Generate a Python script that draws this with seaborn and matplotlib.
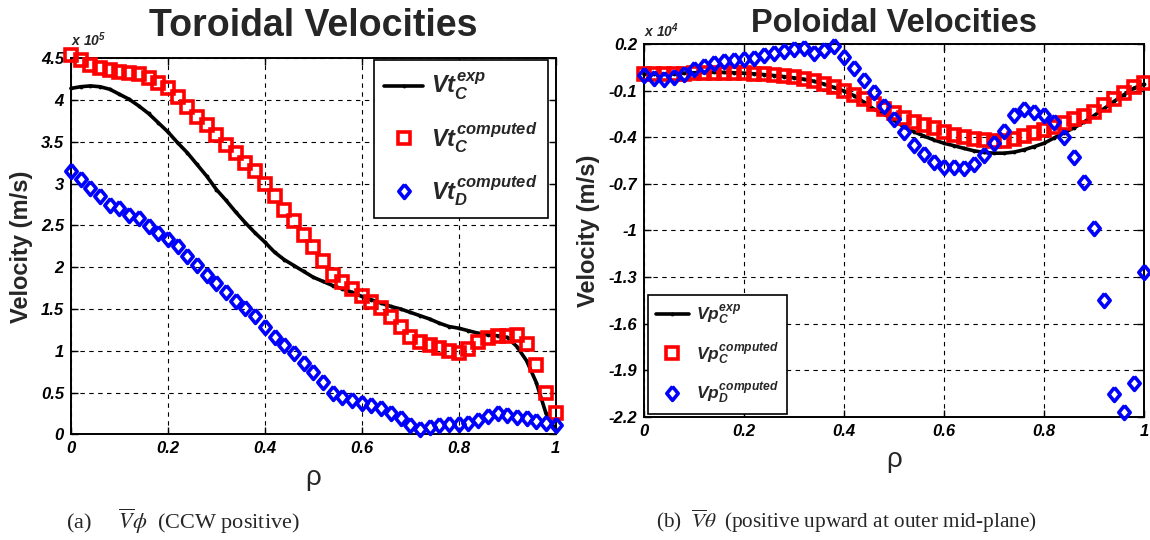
import numpy as np
import pandas as pd
import matplotlib
matplotlib.use("Agg")
import matplotlib.pyplot as plt
import seaborn as sns

# ---------------- data ----------------
rho = np.round(np.arange(51) * 0.02, 2)

# toroidal velocities, units of 1e5 m/s
vt_exp = [4.14, 4.16, 4.17, 4.16, 4.13, 4.07, 4.01, 3.93, 3.84, 3.73,
          3.62, 3.49, 3.37, 3.23, 3.09, 2.93, 2.80, 2.66, 2.53, 2.41,
          2.30, 2.18, 2.09, 2.02, 1.95, 1.88, 1.83, 1.78, 1.74, 1.70,
          1.65, 1.61, 1.57, 1.53, 1.50, 1.46, 1.42, 1.38, 1.33, 1.29,
          1.27, 1.24, 1.21, 1.19, 1.18, 1.16, 1.05, 0.88, 0.62, 0.25,
          0.05]
vt_c = [4.54, 4.48, 4.42, 4.38, 4.36, 4.34, 4.33, 4.31, 4.26, 4.20,
        4.14, 4.04, 3.92, 3.80, 3.70, 3.58, 3.46, 3.37, 3.25, 3.15,
        2.99, 2.85, 2.69, 2.55, 2.38, 2.24, 2.08, 1.91, 1.82, 1.74,
        1.66, 1.58, 1.51, 1.41, 1.29, 1.17, 1.10, 1.07, 1.03, 1.00,
        0.97, 1.02, 1.10, 1.15, 1.18, 1.18, 1.19, 1.08, 0.83, 0.49,
        0.25]
vt_d = [3.15, 3.05, 2.95, 2.85, 2.75, 2.71, 2.63, 2.59, 2.49, 2.41,
        2.34, 2.25, 2.13, 2.03, 1.91, 1.81, 1.70, 1.59, 1.51, 1.42,
        1.29, 1.17, 1.07, 0.97, 0.85, 0.75, 0.63, 0.49, 0.45, 0.41,
        0.37, 0.35, 0.31, 0.26, 0.19, 0.11, 0.06, 0.09, 0.11, 0.12,
        0.12, 0.13, 0.17, 0.22, 0.25, 0.23, 0.21, 0.19, 0.16, 0.13,
        0.11]

# poloidal velocities, units of 1e4 m/s
vp_exp = [0.005, 0.005, 0.006, 0.008, 0.012, 0.015, 0.017, 0.018, 0.017, 0.015,
          0.012, 0.008, 0.003, -0.003, -0.010, -0.018, -0.027, -0.040, -0.058, -0.080,
          -0.103, -0.132, -0.175, -0.220, -0.252, -0.290, -0.335, -0.365, -0.393, -0.418,
          -0.439, -0.455, -0.472, -0.488, -0.498, -0.503, -0.503, -0.496, -0.481, -0.461,
          -0.439, -0.405, -0.372, -0.340, -0.302, -0.261, -0.216, -0.170, -0.126, -0.084,
          -0.058]
vp_c = [0.005, 0.005, 0.005, 0.007, 0.010, 0.011, 0.013, 0.015, 0.015, 0.014,
        0.011, 0.008, 0.004, -0.001, -0.007, -0.014, -0.023, -0.038, -0.059, -0.079,
        -0.102, -0.128, -0.156, -0.188, -0.218, -0.246, -0.274, -0.299, -0.321, -0.342,
        -0.366, -0.385, -0.402, -0.411, -0.415, -0.422, -0.422, -0.410, -0.390, -0.372,
        -0.352, -0.332, -0.308, -0.284, -0.261, -0.235, -0.195, -0.152, -0.117, -0.080,
        -0.053]
vp_d = [0.000, -0.020, -0.025, -0.015, 0.010, 0.040, 0.060, 0.080, 0.090, 0.097,
        0.104, 0.110, 0.130, 0.143, 0.157, 0.166, 0.172, 0.140, 0.160, 0.188,
        0.117, 0.044, -0.030, -0.111, -0.200, -0.283, -0.366, -0.452, -0.507, -0.559,
        -0.591, -0.591, -0.600, -0.575, -0.516, -0.437, -0.357, -0.258, -0.221, -0.237,
        -0.254, -0.301, -0.398, -0.526, -0.687, -0.985, -1.446, -2.052, -2.170, -1.981,
        -1.268]

x_ticks = [0, 0.2, 0.4, 0.6, 0.8, 1]
x_tick_labels = ["0", "0.2", "0.4", "0.6", "0.8", "1"]
left_y_ticks = [0, 0.5, 1, 1.5, 2, 2.5, 3, 3.5, 4, 4.5]
left_y_labels = ["0", "0.5", "1", "1.5", "2", "2.5", "3", "3.5", "4", "4.5"]
right_y_ticks = [0.2, -0.1, -0.4, -0.7, -1, -1.3, -1.6, -1.9, -2.2]
right_y_labels = ["0.2", "-0.1", "-0.4", "-0.7", "-1", "-1.3", "-1.6", "-1.9", "-2.2"]

left_labels = [r"$Vt_C^{exp}$", r"$Vt_C^{computed}$", r"$Vt_D^{computed}$"]
right_labels = [r"$Vp_C^{exp}$", r"$Vp_C^{computed}$", r"$Vp_D^{computed}$"]

# ---------------- style ----------------
sns.set_style("white")
plt.rcParams["font.family"] = ["Liberation Sans", "DejaVu Sans"]
plt.rcParams["axes.unicode_minus"] = False
plt.rcParams["mathtext.fontset"] = "custom"
plt.rcParams["mathtext.it"] = "Liberation Sans:bold:italic"
plt.rcParams["mathtext.rm"] = "Liberation Sans:bold:italic"
plt.rcParams["mathtext.bf"] = "Liberation Sans:bold:italic"

# slightly tall diamond, like MATLAB's
diamond = [(0, 1.0), (0.82, 0), (0, -1.0), (-0.82, 0), (0, 1.0)]

fig = plt.figure(figsize=(11.5, 5.4), dpi=100)
axL = fig.add_axes([0.0617, 0.1957, 0.4215, 0.6963])
axR = fig.add_axes([0.5600, 0.2283, 0.4348, 0.6902])

dfL = pd.DataFrame({"rho": rho, "exp": vt_exp, "c": vt_c, "d": vt_d})
dfR = pd.DataFrame({"rho": rho, "exp": vp_exp, "c": vp_c, "d": vp_d})


def draw(ax, df, labels, leg_fs, leg_bbox, leg_loc, spacing, hlen, tpad):
    sns.lineplot(data=df, x="rho", y="exp", ax=ax, color="black", linewidth=2.6,
                 marker=".", markersize=4, markeredgecolor="black",
                 markerfacecolor="black", label=labels[0], zorder=3, clip_on=False)
    sns.lineplot(data=df, x="rho", y="c", ax=ax, color="red", linestyle="none",
                 marker="s", markersize=8, markerfacecolor="none",
                 markeredgecolor="red", markeredgewidth=2.6, label=labels[1],
                 zorder=4, clip_on=False)
    sns.lineplot(data=df, x="rho", y="d", ax=ax, color="blue", linestyle="none",
                 marker=diamond, markersize=10, markerfacecolor="none",
                 markeredgecolor="blue", markeredgewidth=2.6, label=labels[2],
                 zorder=5, clip_on=False)
    ax.grid(True, color="black", linestyle=(0, (4, 4)), linewidth=0.8)
    for s in ax.spines.values():
        s.set_visible(True)
        s.set_color("black")
        s.set_linewidth(1.4)
    ax.tick_params(direction="in", length=5, width=1, top=True, right=True,
                   bottom=True, left=True, colors="black", pad=5)
    ax.set_xlim(0, 1)
    ax.set_xticks(x_ticks, x_tick_labels)
    ax.set_xlabel("ρ", fontsize=20, labelpad=6)
    ax.set_ylabel("Velocity (m/s)", fontsize=17, fontweight="bold", labelpad=6)
    leg = ax.legend(loc=leg_loc, bbox_to_anchor=leg_bbox, fontsize=leg_fs,
                    frameon=True, fancybox=False, framealpha=1, edgecolor="black",
                    handlelength=hlen, borderpad=0.45, labelspacing=spacing,
                    handletextpad=tpad, borderaxespad=0)
    leg.get_frame().set_linewidth(1.2)
    return leg


axL.set_ylim(0, 4.5)
axL.set_yticks(left_y_ticks, left_y_labels)
draw(axL, dfL, left_labels, 17, (0.985, 0.995), "upper right", 0.75, 1.65, 0.35)
axL.set_title("Toroidal Velocities", fontsize=27, fontweight="bold", pad=16)
axL.text(0.0, 1.025, r"x 10$^{5}$", transform=axL.transAxes, fontsize=10,
         fontweight="bold", fontstyle="italic", ha="left", va="bottom")

axR.set_ylim(-2.2, 0.2)
axR.set_yticks(right_y_ticks, right_y_labels)
draw(axR, dfR, right_labels, 12.5, (0.008, 0.008), "lower left", 0.75, 1.9, 0.4)
axR.set_title("Poloidal Velocities", fontsize=23.5, fontweight="bold", pad=9)
axR.text(0.0, 1.012, r"x 10$^{4}$", transform=axR.transAxes, fontsize=10,
         fontweight="bold", fontstyle="italic", ha="left", va="bottom")

for a in (axL, axR):
    for t in a.get_xticklabels() + a.get_yticklabels():
        t.set_fontweight("bold")
        t.set_fontstyle("italic")
        t.set_fontsize(12)

fig.text(0.057, 0.034, r"(a)     $\overline{V}\phi$  (CCW positive)", fontsize=16,
         family="Liberation Serif", math_fontfamily="stix", ha="left", va="center")
fig.text(0.570, 0.034, r"(b)  $\overline{V}\theta\;$ (positive upward at outer mid-plane)",
         fontsize=15.3, family="Liberation Serif", math_fontfamily="stix",
         ha="left", va="center")

fig.savefig("out.png", dpi=100, facecolor="white")
